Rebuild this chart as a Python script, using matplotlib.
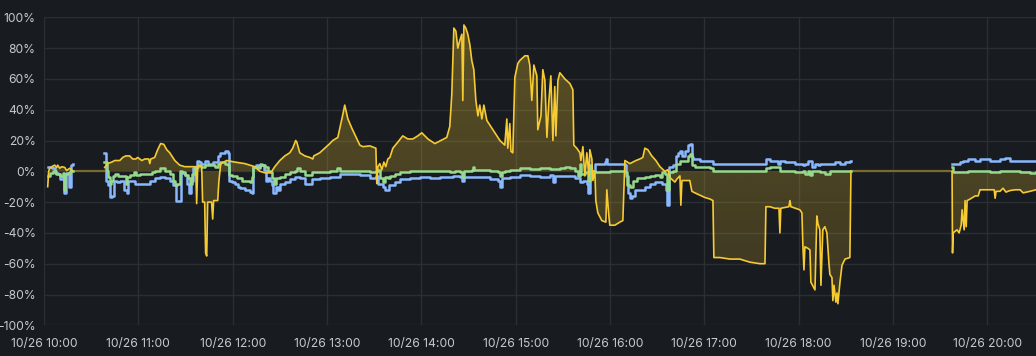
import numpy as np
import matplotlib
matplotlib.use('Agg')
import matplotlib.pyplot as plt
import matplotlib.dates as mdates
from matplotlib.ticker import FuncFormatter, MultipleLocator
from datetime import datetime, timedelta

# minutes after 10/26 10:00, values in %; nan splits the series where data stops
yellow_min = [2.35, 3.0, 3.6, 4.9, 6.8, 8.1, 8.7, 10.0, 11.3, 13.2, 14.4, 16.4, 18.3, np.nan,
              38.6, 40.5, 43.1, 45.0, 48.2, 50.1, 52.0, 54.5, 56.4, 58.4, 59.6, 62.2, 64.1, 66.6, 67.3, 67.9,
              70.4, 72.3, 74.2, 76.2, 78.1, 80.0, 83.2, 86.3, 89.5, 95.9, 96.5, 97.1, 97.8, 100.3, 100.9,
              102.2, 102.8, 103.5, 104.1, 106.6, 107.3, 107.9, 110.5, 111.2, 112.4, 116.2, 121.3, 127.7,
              130.9, 134.1, 137.3, 140.5, 143.6, 144.9, 146.8, 150.0, 153.2, 156.3, 158.2, 160.1, 160.8,
              162.7, 165.9, 169.1, 171.0, 171.6, 175.4, 178.6, 181.8, 183.7, 186.9, 188.2, 190.1, 191.3,
              193.3, 195.8, 199.0, 200.9, 202.8, 207.3, 211.1, 211.7, 212.4, 213.6, 214.9, 216.2, 217.4,
              218.7, 220.0, 221.9, 225.1, 228.2, 231.4, 234.6, 237.8, 240.3, 244.2, 248.6, 252.4, 256.2,
              258.1, 259.4, 260.7, 262.0, 263.2, 264.5, 265.8, 266.4, 267.1, 268.3, 269.6, 270.9, 272.1,
              273.4, 274.7, 276.0, 277.2, 278.5, 279.8, 281.7, 283.6, 286.8, 290.0, 293.1, 294.4, 295.0,
              296.3, 297.0, 298.2, 299.5, 301.4, 302.7, 305.9, 307.8, 309.0, 310.3, 311.6, 313.5, 314.1,
              316.1, 317.3, 318.6, 319.9, 321.1, 322.4, 323.7, 324.9, 325.6, 326.9, 328.1, 331.3, 334.5,
              336.4, 337.0, 338.9, 340.9, 341.5, 342.8, 344.0, 345.3, 346.6, 347.2, 348.5, 349.1, 350.4,
              351.0, 352.3, 354.8, 357.4, 358.0, 359.3, 359.9, 363.1, 366.3, 368.2, 369.5, 372.7, 376.5,
              379.0, 380.9, 382.2, 384.1, 386.6, 389.2, 391.8, 394.9, 396.8, 398.1, 401.3, 402.6, 404.5,
              405.1, 405.8, 407.7, 410.8, 412.1, 414.0, 417.2, 420.4, 423.6, 425.5, 426.1, 429.9, 436.3,
              442.6, 445.8, 449.0, 455.4, 458.6, 459.2, 461.7, 464.9, 467.5, 468.1, 468.7, 473.8, 474.5,
              475.1, 480.8, 482.1, 482.7, 483.4, 484.0, 485.9, 487.2, 487.8, 490.4, 491.6, 492.3, 493.5,
              494.2, 495.4, 496.7, 498.0, 499.3, 499.9, 501.2, 501.8, 502.5, 503.7, 504.4, 505.0, 506.3,
              507.6, 509.5, 512.6, 513.3, np.nan,
              577.6, 577.9, 578.3, 579.5, 580.8, 582.1, 583.4, 584.0, 585.3, 585.9, 586.6, 587.2, 589.1,
              592.3, 594.2, 595.4, 601.8, 604.4, 605.0, 605.6, 608.1, 610.0, 611.9, 614.5, 617.7, 620.9,
              622.8, 627.2, 631.0]
yellow_val = [-10, 0, 2, 3, 4, 2.5, 4, 2, 3, 2.5, 0.5, 2, 0, np.nan,
              2.5, 5, 6, 7, 7, 9, 10, 10, 8, 8, 9, 7, 8, 8, 5, 8,
              9, 14, 18, 17.5, 14, 12, 7, 4, 3, 3, 3, -21, 4, 3, -20,
              -20, -53, -55, -20, -20, -31, -19, -19, -7, 5, 7, 6, 5,
              4, 3, 0, -1, -1, 0, 3, 7, 10, 12, 15, 20, 19,
              12, 10, 9, 8, 10, 12, 15, 18, 20, 22, 28, 37, 43,
              34, 28, 21, 17, 16, 16.5, 15, -8, 3, 5, 1, 6, 3,
              8, 9, 15, 19, 23, 21, 21, 23, 25, 21, 18, 20, 22,
              29, 50, 93, 91, 80, 85, 89, 46, 95, 93, 89, 82, 72,
              66, 46, 36, 43, 34, 43, 33, 30, 25, 20, 17, 34, 15,
              31, 13, 12, 61, 70, 72, 75, 75, 69, 46, 69, 62, 27,
              36, 66, 59, 22, 45, 62, 20, 55, 23, 59, 64, 60, 57,
              53, 17, 15, 12, 7, 16, -3, 12, -3, 14, 8, -6, 0,
              -19, -27, -32, -33, -12, -29, -35, -35, -33, -32, 7, 5, 7,
              8, 9, 15, 14, 10, 7, 3, 0, 1, -4, -7, -5, -3,
              -22, -6, -6, -6, -13, -14, -15.5, -17, -18, -19, -56, -56, -57,
              -57, -58, -59, -60, -60, -23, -23, -24, -24, -40, -24, -23, -19,
              -23, -25, -27, -48, -64, -49, -50, -51, -72, -77, -29, -34, -38,
              -74, -38, -36, -40, -60, -67, -69, -84, -74, -85, -79, -86, -72,
              -61, -57, -56, 0, np.nan,
              0, -53, -40, -39, -38, -40, -35, -25, -38, -19, -36, -19, -18,
              -16, -16, -12, -12, -12, -17.5, -13, -13, -11, -13.5, -12.5, -12, -12,
              -14, -13, -12]

blue_min = [2.35, 4.9, 6.8, 8.7, 10.0, 11.9, 12.5, 13.8, 15.1, 15.7, 17.0, 18.3, np.nan,
            38.0, 39.3, 40.5, 41.8, 43.1, 44.3, 46.3, 48.2, 50.7, 52.6, 53.3, 55.8, 57.7, 60.9, 64.1,
            67.3, 70.4, 73.6, 76.8, 80.0, 81.9, 83.8, 86.3, 87.0, 89.5, 90.8, 92.1, 93.3, 94.6, 97.1,
            98.4, 99.7, 100.9, 102.2, 104.1, 107.3, 110.5, 111.8, 115.0, 116.9, 117.5, 119.4, 121.3,
            123.2, 124.5, 127.7, 130.9, 132.2, 132.8, 134.7, 136.0, 137.3, 138.5, 139.8, 141.1, 142.4,
            143.6, 144.9, 145.5, 147.4, 148.7, 150.0, 153.2, 156.3, 159.5, 162.7, 165.9, 168.4, 170.3,
            175.4, 181.8, 188.2, 194.5, 200.9, 207.3, 211.1, 212.4, 215.5, 216.8, 219.3, 223.2, 226.3,
            232.7, 239.1, 245.4, 251.8, 260.0, 264.5, 265.8, 267.1, 270.9, 277.2, 283.6, 288.7, 290.0,
            291.2, 296.3, 302.7, 309.0, 315.4, 321.8, 323.7, 324.9, 328.1, 334.5, 337.7, 340.9, 342.8,
            345.3, 346.0, 347.2, 348.5, 350.4, 356.7, 357.4, 358.0, 369.5, 370.1, 371.4, 372.7, 373.9,
            375.8, 379.0, 382.2, 385.4, 388.6, 393.0, 395.5, 396.2, 397.4, 400.0, 401.9, 403.2, 404.5,
            405.8, 407.7, 409.6, 410.8, 412.1, 412.8, 417.2, 423.6, 425.5, 442.6, 445.8, 449.0, 459.2,
            461.7, 466.8, 468.1, 471.3, 474.5, 477.6, 482.7, 484.0, 485.9, 487.2, 488.5, 490.4, 492.3,
            493.5, 496.7, 503.1, 506.3, 509.5, 512.6, 513.3, np.nan,
            577.6, 579.5, 581.4, 582.7, 584.6, 586.6, 587.8, 592.3, 595.4, 601.8, 608.1, 611.3, 614.5,
            620.9, 627.2, 631.0]
blue_val = [3, 2, -1, -2, -5, -4, -14, -1, -1, -10, 4, 5, np.nan,
            12, -6, -9, -17, -16, -6, -7, -6.5, -12, -14, -6, -6, -8, -8.5, -8,
            -6.5, -4.5, -4, -4.5, -6, -9, -19, -19, -1, -2.5, -8, -14, -6, 2, 7,
            6, 5, 4.5, 7, 5, 6, 10, 12, 13, 12, -6, -7, -8.5,
            -10, -11, -12, -13.5, -14, 3, 4, 2, 5, 4, 1, -6, -4.5,
            -6, -9, -14, -10, -12, -8.5, -7, -5, -4, -4.5, -8, -8, -5,
            -4.5, -4, -2, -2, -2.5, -4.5, -3, -8, -10, -12, -9, -7, -5,
            -4.5, -4, -4.5, -4, -3, -3.5, -6, -4, -4, -4, -5, -6.5, -10,
            -4.5, -3.5, -2.5, -3, -4, -2.5, -7, -3, -3, -3, -4.5, -7, -6,
            -8, -14, -1, 0.5, 5, 6, 8, 5, 4, -3, -14, -17.5, -16,
            -12, -12, -10, -8.5, -7, -8.5, -12, -22, 2.5, 4, 10, 12, 13.5,
            10, 13.5, 17, 18, 9, 8, 7, 6.5, 4.5, 4.5, 5, 4.5, 8,
            6.5, 5, 7, 6, 6, 5, 4, 5, 7, 6.5, 2.5, 5, 4,
            5, 4.5, 6, 5, 6, 7, 7, np.nan,
            5, 4.5, 5, 6, 7, 6.5, 8, 7, 8, 7, 8, 8.5, 7,
            7, 6.5, 6.5]

green_min = [2.35, 3.6, 5.5, 7.4, 10.0, 11.9, 12.5, 13.2, 15.1, 16.4, 18.3, np.nan,
             38.0, 39.9, 40.5, 41.8, 42.5, 43.7, 45.0, 46.9, 50.1, 52.0, 52.6, 54.5, 57.1, 58.4, 60.9,
             66.0, 68.5, 70.4, 73.6, 76.8, 80.0, 81.9, 83.2, 84.4, 86.3, 87.6, 89.5, 91.4, 92.7, 93.9,
             95.9, 97.8, 99.7, 102.2, 108.6, 110.5, 111.8, 115.0, 116.9, 117.5, 119.4, 122.6, 125.8,
             129.6, 130.9, 132.2, 132.8, 134.7, 137.3, 140.5, 142.4, 143.6, 144.9, 146.2, 147.4, 150.0,
             153.2, 156.3, 159.5, 160.8, 162.7, 165.9, 168.4, 170.3, 181.8, 186.3, 188.2, 194.5, 207.3,
             211.1, 212.4, 213.6, 215.5, 216.8, 218.7, 220.0, 223.2, 226.3, 232.7, 258.1, 261.3, 264.5,
             265.8, 267.1, 272.1, 272.8, 273.4, 283.6, 288.7, 290.0, 291.2, 293.1, 296.3, 302.7, 309.0,
             315.4, 321.8, 328.1, 331.3, 334.5, 337.7, 339.6, 340.9, 341.5, 344.0, 346.0, 347.2, 347.9,
             350.4, 359.9, 369.5, 370.8, 372.7, 374.6, 377.1, 382.2, 385.4, 388.6, 391.8, 393.0, 394.9,
             396.2, 397.4, 400.0, 401.9, 404.5, 409.6, 410.8, 412.1, 414.0, 423.6, 425.5, 459.2, 461.7,
             468.1, 477.6, 482.7, 484.0, 485.9, 487.2, 488.5, 493.5, 496.7, 499.9, 509.5, 513.3, np.nan,
             577.6, 578.3, 582.7, 587.8, 592.3, 601.8, 608.1, 614.5, 620.9, 627.2, 631.0]
green_val = [-3, -1, 0, -2, -3, -1, -12, -2, -1, 0, 0, np.nan,
             6, 0, -4, -8, -6, -3, -2, -3, -3, -8, -4, -2.5, -0.5, -2.5, -2,
             -1.5, -0.5, 0.5, 2, 0.5, -1.5, -6, -9, -8, 0.5, -0.5, -2.5, -4.5, -8, -1.5,
             3, 4, 2.5, 4, 3, 5, 6, 5, 4, -2.5, -3, -4.5, -6,
             -6.5, -7, -4, 2.5, 3, 4, 2.5, 0.5, -0.5, -4.5, -8, -4.5, -4,
             -2, -0.5, 0.5, 2, 0, -2.5, -2.5, -0.5, 0, 2, 0, 0, -0.5,
             0, 1, -4.5, -7, -4, -4.5, -3, -2, -0.5, 0, -0.5, 0, -0.5,
             -4, 0.5, 1, 3, 1, 0, -0.5, -3, -0.5, 0.5, 1, 2, 1.5,
             2, 1.5, 2, 2.5, 2, 0.5, -3, 5, -1.5, -0.5, -6, 4, 0,
             -0.5, 0.5, -0.5, -9, -10, -6, -4.5, -4, -3, -2.5, -4, -0.5, -2,
             -12, -0.5, 0.5, 5, 7, 10, 11.5, 4, 2.5, 2, 0, 2, 2.5,
             0.5, -0.5, 0.5, -1.5, 0, -2.5, 0.5, -0.5, -1.5, 0.5, 0.5, 0.5, np.nan,
             2.5, -0.5, -0.5, 0.5, 0, -0.5, 0, 0, -0.5, -1, -0.5]

# stretches with no data, drawn as a flat line at 0
gap_min = [(18.3, 38.0), (513.3, 577.6)]

start = datetime(2023, 10, 26, 10, 0)
end_min = 631.0

BG = '#181b1f'
GRID = '#2b2e33'
TEXT = '#c7c9d1'
YELLOW = '#f6ca32'
BLUE = '#8ab8ff'
GREEN = '#96d98d'
OLIVE = '#7a6a2b'


def to_dates(mins):
    return np.array([mdates.date2num(start + timedelta(minutes=float(m))) if not np.isnan(m) else np.nan
                     for m in mins])


def segments(x, y):
    x = np.asarray(x, float)
    y = np.asarray(y, float)
    cut = np.where(np.isnan(x))[0]
    out = []
    prev = 0
    for c in list(cut) + [len(x)]:
        out.append((x[prev:c], y[prev:c]))
        prev = c + 1
    return out


plt.rcParams['font.family'] = ['Inter', 'DejaVu Sans']
fig = plt.figure(figsize=(10.36, 3.56), dpi=100, facecolor=BG)
ax = fig.add_axes([44 / 1036, 1 - 325.3 / 356, 1 - 44 / 1036, (325.3 - 17.3) / 356])
ax.set_facecolor(BG)

x0 = mdates.date2num(start)
x1 = mdates.date2num(start + timedelta(minutes=end_min))
ax.set_xlim(x0, x1)
ax.set_ylim(-100, 100)

# gradient fill under the yellow series: stronger at top of the chart
rgb = matplotlib.colors.to_rgb(YELLOW)
grad = np.zeros((256, 1, 4))
grad[:, 0, :3] = rgb
grad[:, 0, 3] = np.linspace(0.15, 0.31, 256)

yd = to_dates(yellow_min)
for sx, sy in segments(yd, yellow_val):
    poly = ax.fill_between(sx, sy, 0, facecolor='none', edgecolor='none', lw=0)
    im = ax.imshow(grad, extent=[x0, x1, -100, 100], origin='lower', aspect='auto',
                   interpolation='bilinear', zorder=1)
    im.set_clip_path(poly.get_paths()[0], transform=ax.transData)

for a, b in gap_min:
    ax.plot(to_dates([a, b]), [0, 0], color=OLIVE, lw=1.6, zorder=2)

ax.plot(to_dates(blue_min), blue_val, color=BLUE, lw=1.8, drawstyle='steps-post', zorder=3)
ax.plot(to_dates(green_min), green_val, color=GREEN, lw=1.8, drawstyle='steps-post', zorder=4)
ax.plot(yd, yellow_val, color=YELLOW, lw=1.2, zorder=5)

ax.xaxis.set_major_locator(mdates.HourLocator())
ax.xaxis.set_major_formatter(mdates.DateFormatter('%m/%d %H:%M'))
ax.yaxis.set_major_locator(MultipleLocator(20))
ax.yaxis.set_major_formatter(FuncFormatter(lambda v, p: '%d%%' % v))

ax.grid(True, color=GRID, lw=1)
ax.set_axisbelow(True)
for s in ax.spines.values():
    s.set_visible(False)
ax.tick_params(length=0, colors=TEXT, labelsize=8.7)
ax.tick_params(axis='x', pad=9)
ax.tick_params(axis='y', pad=6)

plt.savefig('out.png', dpi=100, facecolor=BG)
